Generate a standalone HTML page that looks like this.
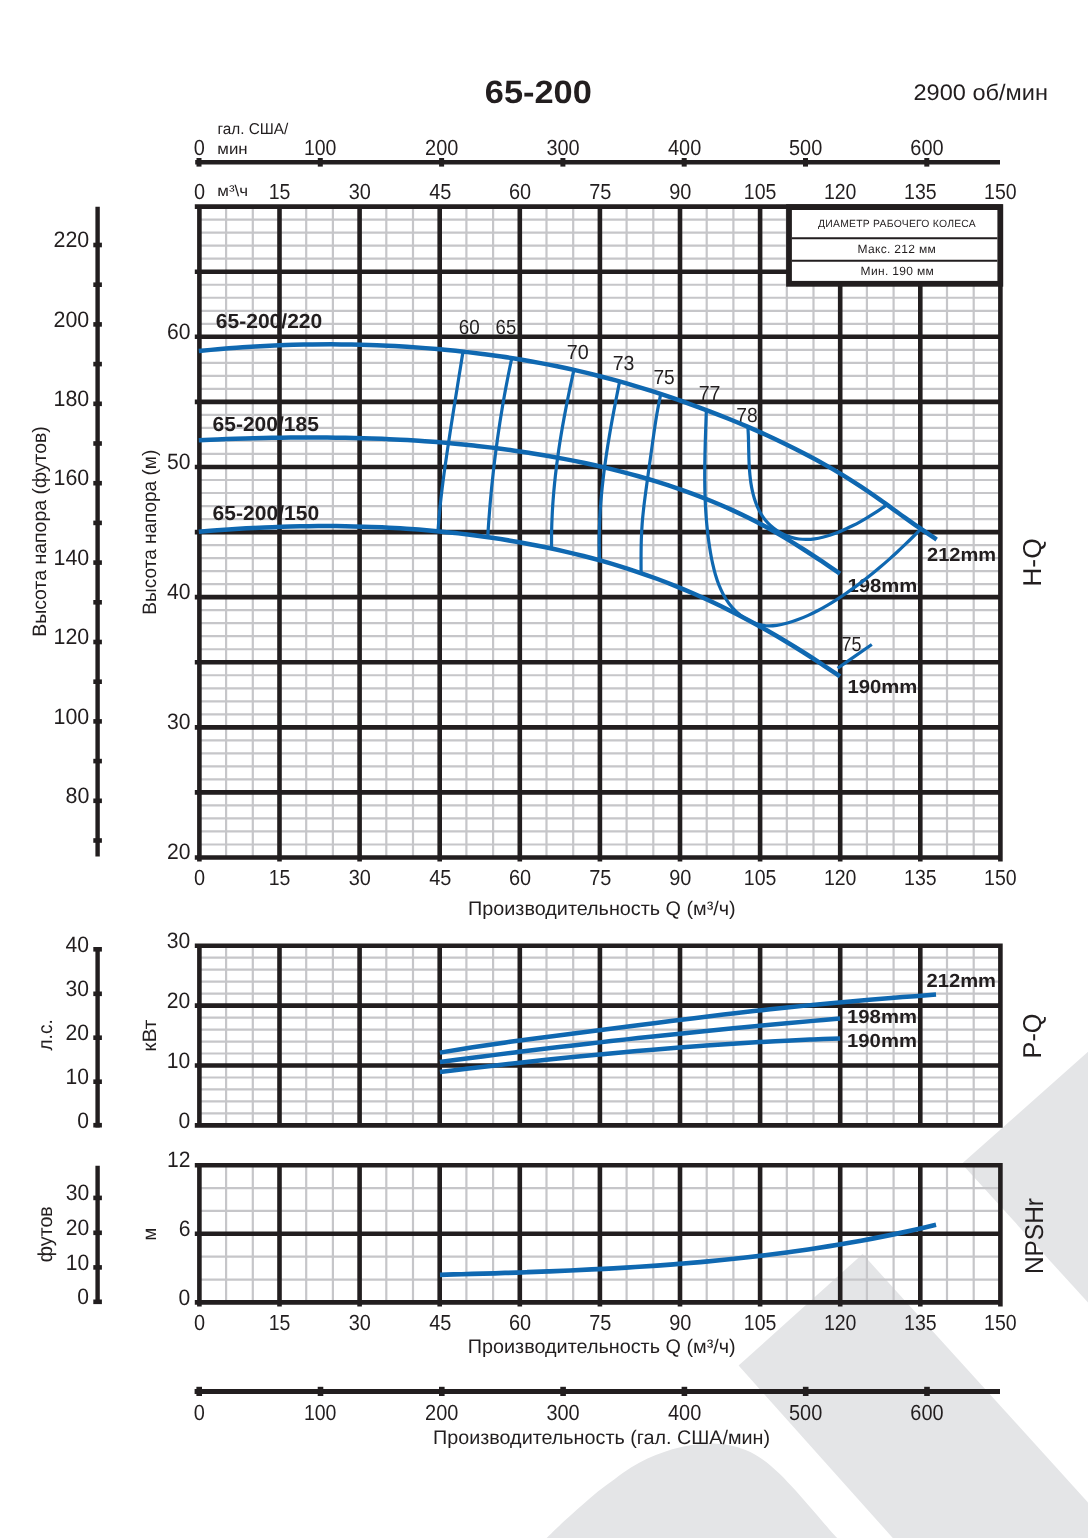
<!DOCTYPE html>
<html lang="ru"><head><meta charset="utf-8"><title>65-200</title>
<style>html,body{margin:0;padding:0;background:#fff}body{width:1088px;height:1538px;overflow:hidden}svg{display:block}text{font-family:"Liberation Sans", "DejaVu Sans", sans-serif;fill:#221e1f;text-rendering:geometricPrecision}</style>
</head><body>
<svg width="1088" height="1538" viewBox="0 0 1088 1538">
<rect width="1088" height="1538" fill="#fff"/>
<g fill="#e4e5e7">
<path d="M961.8 1163.8L1088 1051.8V1302.6Z"/>
<path d="M862.6 1254L1088 1502.4V1538H892.8L738.6 1365.6Z"/>
<path d="M546.6 1538C549.63 1535.1 559 1525.98 564.8 1520.6C570.6 1515.22 575.88 1510.53 581.4 1505.7C586.92 1500.87 592.38 1496.02 597.9 1491.6C603.42 1487.18 608.98 1483.2 614.5 1479.2C620.02 1475.2 625.5 1471.05 631 1467.6C636.5 1464.15 641.98 1461.12 647.5 1458.5C653.02 1455.88 658.62 1453.78 664.1 1451.9C669.58 1450.02 674.95 1448.43 680.4 1447.2C685.85 1445.97 691.35 1445.12 696.8 1444.5C702.25 1443.88 707.63 1443.37 713.1 1443.5C718.57 1443.63 724.08 1444.17 729.6 1445.3C735.12 1446.43 740.68 1447.95 746.2 1450.3C751.72 1452.65 757.18 1455.55 762.7 1459.4C768.22 1463.25 773.78 1468.17 779.3 1473.4C784.82 1478.63 790.28 1484.73 795.8 1490.8C801.32 1496.87 806.88 1503.45 812.4 1509.8C817.92 1516.15 824.77 1524.2 828.9 1528.9C833.03 1533.6 835.82 1536.48 837.2 1538Z"/>
</g>
<path d="M226.1 206.65V857.5M252.8 206.65V857.5M306.2 206.65V857.5M332.9 206.65V857.5M386.3 206.65V857.5M413 206.65V857.5M466.4 206.65V857.5M493.1 206.65V857.5M546.5 206.65V857.5M573.2 206.65V857.5M626.6 206.65V857.5M653.3 206.65V857.5M706.7 206.65V857.5M733.4 206.65V857.5M786.8 206.65V857.5M813.5 206.65V857.5M866.9 206.65V857.5M893.6 206.65V857.5M947 206.65V857.5M973.7 206.65V857.5M199.4 219.67H1000.4M199.4 232.68H1000.4M199.4 245.7H1000.4M199.4 258.72H1000.4M199.4 284.75H1000.4M199.4 297.77H1000.4M199.4 310.79H1000.4M199.4 323.8H1000.4M199.4 349.84H1000.4M199.4 362.85H1000.4M199.4 375.87H1000.4M199.4 388.89H1000.4M199.4 414.92H1000.4M199.4 427.94H1000.4M199.4 440.96H1000.4M199.4 453.97H1000.4M199.4 480.01H1000.4M199.4 493.02H1000.4M199.4 506.04H1000.4M199.4 519.06H1000.4M199.4 545.09H1000.4M199.4 558.11H1000.4M199.4 571.13H1000.4M199.4 584.14H1000.4M199.4 610.18H1000.4M199.4 623.19H1000.4M199.4 636.21H1000.4M199.4 649.23H1000.4M199.4 675.26H1000.4M199.4 688.28H1000.4M199.4 701.3H1000.4M199.4 714.31H1000.4M199.4 740.35H1000.4M199.4 753.36H1000.4M199.4 766.38H1000.4M199.4 779.4H1000.4M199.4 805.43H1000.4M199.4 818.45H1000.4M199.4 831.47H1000.4M199.4 844.48H1000.4" stroke="#c6c6c9" stroke-width="2.2" fill="none"/>
<path d="M194.8 206.65H1002.7M194.8 271.74H1002.7M194.8 336.82H1002.7M194.8 401.91H1002.7M194.8 466.99H1002.7M194.8 532.08H1002.7M194.8 597.16H1002.7M194.8 662.25H1002.7M194.8 727.33H1002.7M194.8 792.42H1002.7M194.8 857.5H1002.7M199.4 204.35V861.6M279.5 204.35V861.6M359.6 204.35V861.6M439.7 204.35V861.6M519.8 204.35V861.6M599.9 204.35V861.6M680 204.35V861.6M760.1 204.35V861.6M840.2 204.35V861.6M920.3 204.35V861.6M1000.4 204.35V861.6" stroke="#221e1f" stroke-width="4.6" fill="none"/>
<path d="M226.1 945.7V1125.4M252.8 945.7V1125.4M306.2 945.7V1125.4M332.9 945.7V1125.4M386.3 945.7V1125.4M413 945.7V1125.4M466.4 945.7V1125.4M493.1 945.7V1125.4M546.5 945.7V1125.4M573.2 945.7V1125.4M626.6 945.7V1125.4M653.3 945.7V1125.4M706.7 945.7V1125.4M733.4 945.7V1125.4M786.8 945.7V1125.4M813.5 945.7V1125.4M866.9 945.7V1125.4M893.6 945.7V1125.4M947 945.7V1125.4M973.7 945.7V1125.4M199.4 957.68H1000.4M199.4 969.66H1000.4M199.4 981.64H1000.4M199.4 993.62H1000.4M199.4 1017.58H1000.4M199.4 1029.56H1000.4M199.4 1041.54H1000.4M199.4 1053.52H1000.4M199.4 1077.48H1000.4M199.4 1089.46H1000.4M199.4 1101.44H1000.4M199.4 1113.42H1000.4" stroke="#c6c6c9" stroke-width="2.2" fill="none"/>
<path d="M194.8 945.7H1002.7M194.8 1005.6H1002.7M194.8 1065.5H1002.7M194.8 1125.4H1002.7M199.4 943.4V1127.7M279.5 943.4V1127.7M359.6 943.4V1127.7M439.7 943.4V1127.7M519.8 943.4V1127.7M599.9 943.4V1127.7M680 943.4V1127.7M760.1 943.4V1127.7M840.2 943.4V1127.7M920.3 943.4V1127.7M1000.4 943.4V1127.7" stroke="#221e1f" stroke-width="4.6" fill="none"/>
<path d="M226.1 1165.2V1302.4M252.8 1165.2V1302.4M306.2 1165.2V1302.4M332.9 1165.2V1302.4M386.3 1165.2V1302.4M413 1165.2V1302.4M466.4 1165.2V1302.4M493.1 1165.2V1302.4M546.5 1165.2V1302.4M573.2 1165.2V1302.4M626.6 1165.2V1302.4M653.3 1165.2V1302.4M706.7 1165.2V1302.4M733.4 1165.2V1302.4M786.8 1165.2V1302.4M813.5 1165.2V1302.4M866.9 1165.2V1302.4M893.6 1165.2V1302.4M947 1165.2V1302.4M973.7 1165.2V1302.4M199.4 1188.07H1000.4M199.4 1210.93H1000.4M199.4 1256.67H1000.4M199.4 1279.53H1000.4" stroke="#c6c6c9" stroke-width="2.2" fill="none"/>
<path d="M194.8 1165.2H1002.7M194.8 1233.8H1002.7M194.8 1302.4H1002.7M199.4 1162.9V1306.5M279.5 1162.9V1306.5M359.6 1162.9V1306.5M439.7 1162.9V1306.5M519.8 1162.9V1306.5M599.9 1162.9V1306.5M680 1162.9V1306.5M760.1 1162.9V1306.5M840.2 1162.9V1306.5M920.3 1162.9V1306.5M1000.4 1162.9V1306.5" stroke="#221e1f" stroke-width="4.6" fill="none"/>
<path d="M97.6 206.8V856.6" stroke="#221e1f" stroke-width="4.4" fill="none"/>
<rect x="93.3" y="242.7" width="8.6" height="4.6" fill="#221e1f"/>
<rect x="93.3" y="282.4" width="8.6" height="4.6" fill="#221e1f"/>
<rect x="93.3" y="322.1" width="8.6" height="4.6" fill="#221e1f"/>
<rect x="93.3" y="361.8" width="8.6" height="4.6" fill="#221e1f"/>
<rect x="93.3" y="401.5" width="8.6" height="4.6" fill="#221e1f"/>
<rect x="93.3" y="441.2" width="8.6" height="4.6" fill="#221e1f"/>
<rect x="93.3" y="480.9" width="8.6" height="4.6" fill="#221e1f"/>
<rect x="93.3" y="520.6" width="8.6" height="4.6" fill="#221e1f"/>
<rect x="93.3" y="560.3" width="8.6" height="4.6" fill="#221e1f"/>
<rect x="93.3" y="600" width="8.6" height="4.6" fill="#221e1f"/>
<rect x="93.3" y="639.7" width="8.6" height="4.6" fill="#221e1f"/>
<rect x="93.3" y="679.4" width="8.6" height="4.6" fill="#221e1f"/>
<rect x="93.3" y="719.1" width="8.6" height="4.6" fill="#221e1f"/>
<rect x="93.3" y="758.8" width="8.6" height="4.6" fill="#221e1f"/>
<rect x="93.3" y="798.5" width="8.6" height="4.6" fill="#221e1f"/>
<rect x="93.3" y="838.2" width="8.6" height="4.6" fill="#221e1f"/>
<path d="M97.6 947V1127.5" stroke="#221e1f" stroke-width="4.4" fill="none"/>
<rect x="93.3" y="947" width="8.6" height="4.6" fill="#221e1f"/>
<rect x="93.3" y="991.5" width="8.6" height="4.6" fill="#221e1f"/>
<rect x="93.3" y="1035.4" width="8.6" height="4.6" fill="#221e1f"/>
<rect x="93.3" y="1079.4" width="8.6" height="4.6" fill="#221e1f"/>
<rect x="93.3" y="1122.9" width="8.6" height="4.6" fill="#221e1f"/>
<path d="M97.6 1165.7V1304.1" stroke="#221e1f" stroke-width="4.4" fill="none"/>
<rect x="93.3" y="1195.6" width="8.6" height="4.6" fill="#221e1f"/>
<rect x="93.3" y="1230.5" width="8.6" height="4.6" fill="#221e1f"/>
<rect x="93.3" y="1265.1" width="8.6" height="4.6" fill="#221e1f"/>
<rect x="93.3" y="1299.5" width="8.6" height="4.6" fill="#221e1f"/>
<path d="M195.2 162.3H1000" stroke="#221e1f" stroke-width="4.6" fill="none"/>
<rect x="196.5" y="158" width="5" height="8.6" fill="#221e1f"/>
<rect x="317.8" y="158" width="5" height="8.6" fill="#221e1f"/>
<rect x="439.1" y="158" width="5" height="8.6" fill="#221e1f"/>
<rect x="560.4" y="158" width="5" height="8.6" fill="#221e1f"/>
<rect x="681.7" y="158" width="5" height="8.6" fill="#221e1f"/>
<rect x="803" y="158" width="5" height="8.6" fill="#221e1f"/>
<rect x="924.3" y="158" width="5" height="8.6" fill="#221e1f"/>
<path d="M194.6 1391.4H1000" stroke="#221e1f" stroke-width="5.0" fill="none"/>
<rect x="196.4" y="1386.8" width="5.6" height="9.2" fill="#221e1f"/>
<rect x="317.7" y="1386.8" width="5.6" height="9.2" fill="#221e1f"/>
<rect x="439" y="1386.8" width="5.6" height="9.2" fill="#221e1f"/>
<rect x="560.3" y="1386.8" width="5.6" height="9.2" fill="#221e1f"/>
<rect x="681.6" y="1386.8" width="5.6" height="9.2" fill="#221e1f"/>
<rect x="802.9" y="1386.8" width="5.6" height="9.2" fill="#221e1f"/>
<rect x="924.2" y="1386.8" width="5.6" height="9.2" fill="#221e1f"/>
<rect x="789" y="207.1" width="211.3" height="76.7" fill="#fff" stroke="#221e1f" stroke-width="5.8"/>
<path d="M791.8 238.2H997.5M791.8 260.8H997.5" stroke="#221e1f" stroke-width="2.1" fill="none"/>
<text x="484.81" y="102.5" textLength="107.05" lengthAdjust="spacingAndGlyphs" font-size="32.2px" font-weight="bold">65-200</text>
<text x="913.5" y="99.8" textLength="134.47" lengthAdjust="spacingAndGlyphs" font-size="22.4px">2900 об/мин</text>
<text x="193.66" y="155" textLength="11.09" lengthAdjust="spacingAndGlyphs" font-size="21.8px">0</text>
<text x="303.93" y="155" textLength="32.56" lengthAdjust="spacingAndGlyphs" font-size="21.8px">100</text>
<text x="425.11" y="155" textLength="33.28" lengthAdjust="spacingAndGlyphs" font-size="21.8px">200</text>
<text x="546.38" y="155" textLength="33.28" lengthAdjust="spacingAndGlyphs" font-size="21.8px">300</text>
<text x="667.99" y="155" textLength="33.28" lengthAdjust="spacingAndGlyphs" font-size="21.8px">400</text>
<text x="788.98" y="155" textLength="33.28" lengthAdjust="spacingAndGlyphs" font-size="21.8px">500</text>
<text x="910.3" y="155" textLength="33.28" lengthAdjust="spacingAndGlyphs" font-size="21.8px">600</text>
<text x="217.42" y="134.1" textLength="70.9" lengthAdjust="spacingAndGlyphs" font-size="15.6px">гал. США/</text>
<text x="217.32" y="153.9" textLength="30.31" lengthAdjust="spacingAndGlyphs" font-size="15.6px">мин</text>
<text x="217.31" y="196.2" textLength="30.78" lengthAdjust="spacingAndGlyphs" font-size="15.6px">м³\ч</text>
<text x="194.11" y="199.1" textLength="11.09" lengthAdjust="spacingAndGlyphs" font-size="21.8px">0</text>
<text x="268.77" y="199.1" textLength="21.7" lengthAdjust="spacingAndGlyphs" font-size="21.8px">15</text>
<text x="348.73" y="199.1" textLength="22.19" lengthAdjust="spacingAndGlyphs" font-size="21.8px">30</text>
<text x="429.24" y="199.1" textLength="22.19" lengthAdjust="spacingAndGlyphs" font-size="21.8px">45</text>
<text x="508.95" y="199.1" textLength="22.19" lengthAdjust="spacingAndGlyphs" font-size="21.8px">60</text>
<text x="589.15" y="199.1" textLength="22.19" lengthAdjust="spacingAndGlyphs" font-size="21.8px">75</text>
<text x="669.17" y="199.1" textLength="22.19" lengthAdjust="spacingAndGlyphs" font-size="21.8px">90</text>
<text x="743.84" y="199.1" textLength="32.56" lengthAdjust="spacingAndGlyphs" font-size="21.8px">105</text>
<text x="823.88" y="199.1" textLength="32.56" lengthAdjust="spacingAndGlyphs" font-size="21.8px">120</text>
<text x="904.04" y="199.1" textLength="32.56" lengthAdjust="spacingAndGlyphs" font-size="21.8px">135</text>
<text x="984.08" y="199.1" textLength="32.56" lengthAdjust="spacingAndGlyphs" font-size="21.8px">150</text>
<text x="53.49" y="247.1" textLength="35.74" lengthAdjust="spacingAndGlyphs" font-size="22.2px">220</text>
<text x="53.49" y="326.5" textLength="35.74" lengthAdjust="spacingAndGlyphs" font-size="22.2px">200</text>
<text x="53.49" y="405.9" textLength="35.74" lengthAdjust="spacingAndGlyphs" font-size="22.2px">180</text>
<text x="53.49" y="485.3" textLength="35.74" lengthAdjust="spacingAndGlyphs" font-size="22.2px">160</text>
<text x="53.49" y="564.7" textLength="35.74" lengthAdjust="spacingAndGlyphs" font-size="22.2px">140</text>
<text x="53.49" y="644.1" textLength="35.74" lengthAdjust="spacingAndGlyphs" font-size="22.2px">120</text>
<text x="53.49" y="723.5" textLength="35.74" lengthAdjust="spacingAndGlyphs" font-size="22.2px">100</text>
<text x="65.57" y="802.9" textLength="23.82" lengthAdjust="spacingAndGlyphs" font-size="22.2px">80</text>
<text x="167.12" y="338.72" textLength="23.45" lengthAdjust="spacingAndGlyphs" font-size="22.2px">60</text>
<text x="167.12" y="468.89" textLength="23.45" lengthAdjust="spacingAndGlyphs" font-size="22.2px">50</text>
<text x="167.12" y="599.06" textLength="23.45" lengthAdjust="spacingAndGlyphs" font-size="22.2px">40</text>
<text x="167.12" y="729.23" textLength="23.45" lengthAdjust="spacingAndGlyphs" font-size="22.2px">30</text>
<text x="167.12" y="859.4" textLength="23.45" lengthAdjust="spacingAndGlyphs" font-size="22.2px">20</text>
<text transform="translate(46 635.2) rotate(-90)" x="-1.61" y="0" textLength="210.67" lengthAdjust="spacingAndGlyphs" font-size="19.4px">Высота напора (футов)</text>
<text transform="translate(156.25 613.1) rotate(-90)" x="-1.57" y="0" textLength="164.93" lengthAdjust="spacingAndGlyphs" font-size="19.4px">Высота напора (м)</text>
<text x="215.79" y="328.4" textLength="106.48" lengthAdjust="spacingAndGlyphs" font-size="20.4px" font-weight="bold">65-200/220</text>
<text x="212.59" y="430.6" textLength="106.27" lengthAdjust="spacingAndGlyphs" font-size="20.4px" font-weight="bold">65-200/185</text>
<text x="212.59" y="519.7" textLength="106.53" lengthAdjust="spacingAndGlyphs" font-size="20.4px" font-weight="bold">65-200/150</text>
<text x="927.01" y="560.6" textLength="69.04" lengthAdjust="spacingAndGlyphs" font-size="19px" font-weight="bold">212mm</text>
<text x="847.44" y="591.6" textLength="69.92" lengthAdjust="spacingAndGlyphs" font-size="19px" font-weight="bold">198mm</text>
<text x="847.44" y="693.4" textLength="69.92" lengthAdjust="spacingAndGlyphs" font-size="19px" font-weight="bold">190mm</text>
<text x="458.7" y="333.5" textLength="20.93" lengthAdjust="spacingAndGlyphs" font-size="20.4px">60</text>
<text x="495.61" y="333.5" textLength="20.61" lengthAdjust="spacingAndGlyphs" font-size="20.4px">65</text>
<text x="566.78" y="358.85" textLength="21.95" lengthAdjust="spacingAndGlyphs" font-size="20.4px">70</text>
<text x="612.74" y="370.4" textLength="21.69" lengthAdjust="spacingAndGlyphs" font-size="20.4px">73</text>
<text x="653.41" y="384" textLength="21.3" lengthAdjust="spacingAndGlyphs" font-size="20.4px">75</text>
<text x="698.68" y="400.4" textLength="21.81" lengthAdjust="spacingAndGlyphs" font-size="20.4px">77</text>
<text x="736.2" y="422.3" textLength="21.41" lengthAdjust="spacingAndGlyphs" font-size="20.4px">78</text>
<text x="841.57" y="650.7" textLength="19.92" lengthAdjust="spacingAndGlyphs" font-size="20.4px">75</text>
<text x="818.09" y="227.2" textLength="157.72" lengthAdjust="spacing" font-size="10.4px">ДИАМЕТР РАБОЧЕГО КОЛЕСА</text>
<text x="857.58" y="252.9" textLength="78.11" lengthAdjust="spacing" font-size="12px">Макс. 212 мм</text>
<text x="860.58" y="275" textLength="73.28" lengthAdjust="spacing" font-size="12px">Мин. 190 мм</text>
<text transform="translate(1040.85 584.6) rotate(-90)" x="-2.19" y="0" textLength="48.64" lengthAdjust="spacingAndGlyphs" font-size="25.8px">H-Q</text>
<text transform="translate(1040.85 1056.3) rotate(-90)" x="-2.08" y="0" textLength="44.83" lengthAdjust="spacingAndGlyphs" font-size="25.8px">P-Q</text>
<text transform="translate(1043.4 1272) rotate(-90)" x="-2.01" y="0" textLength="75.87" lengthAdjust="spacingAndGlyphs" font-size="25.8px">NPSHr</text>
<text x="194.11" y="884.9" textLength="11.09" lengthAdjust="spacingAndGlyphs" font-size="21.8px">0</text>
<text x="268.77" y="884.9" textLength="21.7" lengthAdjust="spacingAndGlyphs" font-size="21.8px">15</text>
<text x="348.73" y="884.9" textLength="22.19" lengthAdjust="spacingAndGlyphs" font-size="21.8px">30</text>
<text x="429.24" y="884.9" textLength="22.19" lengthAdjust="spacingAndGlyphs" font-size="21.8px">45</text>
<text x="508.95" y="884.9" textLength="22.19" lengthAdjust="spacingAndGlyphs" font-size="21.8px">60</text>
<text x="589.15" y="884.9" textLength="22.19" lengthAdjust="spacingAndGlyphs" font-size="21.8px">75</text>
<text x="669.17" y="884.9" textLength="22.19" lengthAdjust="spacingAndGlyphs" font-size="21.8px">90</text>
<text x="743.84" y="884.9" textLength="32.56" lengthAdjust="spacingAndGlyphs" font-size="21.8px">105</text>
<text x="823.88" y="884.9" textLength="32.56" lengthAdjust="spacingAndGlyphs" font-size="21.8px">120</text>
<text x="904.04" y="884.9" textLength="32.56" lengthAdjust="spacingAndGlyphs" font-size="21.8px">135</text>
<text x="984.08" y="884.9" textLength="32.56" lengthAdjust="spacingAndGlyphs" font-size="21.8px">150</text>
<text x="468.08" y="914.9" textLength="267.59" lengthAdjust="spacingAndGlyphs" font-size="19.6px">Производительность Q (м³/ч)</text>
<text x="65.52" y="951.9" textLength="23.45" lengthAdjust="spacingAndGlyphs" font-size="22.2px">40</text>
<text x="65.52" y="996.4" textLength="23.45" lengthAdjust="spacingAndGlyphs" font-size="22.2px">30</text>
<text x="65.52" y="1040.3" textLength="23.45" lengthAdjust="spacingAndGlyphs" font-size="22.2px">20</text>
<text x="65.52" y="1084.3" textLength="23.45" lengthAdjust="spacingAndGlyphs" font-size="22.2px">10</text>
<text x="77.15" y="1127.8" textLength="11.73" lengthAdjust="spacingAndGlyphs" font-size="22.2px">0</text>
<text x="166.82" y="948.3" textLength="23.45" lengthAdjust="spacingAndGlyphs" font-size="22.2px">30</text>
<text x="166.82" y="1008.2" textLength="23.45" lengthAdjust="spacingAndGlyphs" font-size="22.2px">20</text>
<text x="166.82" y="1068.1" textLength="23.45" lengthAdjust="spacingAndGlyphs" font-size="22.2px">10</text>
<text x="178.45" y="1128" textLength="11.73" lengthAdjust="spacingAndGlyphs" font-size="22.2px">0</text>
<text transform="translate(52.4 1050.4) rotate(-90)" x="-0.12" y="0" textLength="31.26" lengthAdjust="spacingAndGlyphs" font-size="20.2px">л.с.</text>
<text transform="translate(156.25 1050.4) rotate(-90)" x="-1.45" y="0" textLength="32.24" lengthAdjust="spacingAndGlyphs" font-size="19.4px">кВт</text>
<text x="926.5" y="986.9" textLength="69.56" lengthAdjust="spacingAndGlyphs" font-size="19px" font-weight="bold">212mm</text>
<text x="847.09" y="1022.8" textLength="69.87" lengthAdjust="spacingAndGlyphs" font-size="19px" font-weight="bold">198mm</text>
<text x="847.09" y="1046.6" textLength="69.87" lengthAdjust="spacingAndGlyphs" font-size="19px" font-weight="bold">190mm</text>
<text x="65.72" y="1200.3" textLength="23.45" lengthAdjust="spacingAndGlyphs" font-size="22.2px">30</text>
<text x="65.72" y="1235.2" textLength="23.45" lengthAdjust="spacingAndGlyphs" font-size="22.2px">20</text>
<text x="65.72" y="1269.8" textLength="23.45" lengthAdjust="spacingAndGlyphs" font-size="22.2px">10</text>
<text x="77.35" y="1304.2" textLength="11.73" lengthAdjust="spacingAndGlyphs" font-size="22.2px">0</text>
<text x="167.11" y="1167.4" textLength="23.45" lengthAdjust="spacingAndGlyphs" font-size="22.2px">12</text>
<text x="178.69" y="1236" textLength="11.73" lengthAdjust="spacingAndGlyphs" font-size="22.2px">6</text>
<text x="178.55" y="1304.6" textLength="11.73" lengthAdjust="spacingAndGlyphs" font-size="22.2px">0</text>
<text transform="translate(52.4 1261.3) rotate(-90)" x="-0.98" y="0" textLength="56.11" lengthAdjust="spacingAndGlyphs" font-size="20.2px">футов</text>
<text transform="translate(156.25 1239.3) rotate(-90)" x="-1.29" y="0" textLength="12.67" lengthAdjust="spacingAndGlyphs" font-size="19.4px">м</text>
<text x="194.11" y="1330.2" textLength="11.09" lengthAdjust="spacingAndGlyphs" font-size="21.8px">0</text>
<text x="268.77" y="1330.2" textLength="21.7" lengthAdjust="spacingAndGlyphs" font-size="21.8px">15</text>
<text x="348.73" y="1330.2" textLength="22.19" lengthAdjust="spacingAndGlyphs" font-size="21.8px">30</text>
<text x="429.24" y="1330.2" textLength="22.19" lengthAdjust="spacingAndGlyphs" font-size="21.8px">45</text>
<text x="508.95" y="1330.2" textLength="22.19" lengthAdjust="spacingAndGlyphs" font-size="21.8px">60</text>
<text x="589.15" y="1330.2" textLength="22.19" lengthAdjust="spacingAndGlyphs" font-size="21.8px">75</text>
<text x="669.17" y="1330.2" textLength="22.19" lengthAdjust="spacingAndGlyphs" font-size="21.8px">90</text>
<text x="743.84" y="1330.2" textLength="32.56" lengthAdjust="spacingAndGlyphs" font-size="21.8px">105</text>
<text x="823.88" y="1330.2" textLength="32.56" lengthAdjust="spacingAndGlyphs" font-size="21.8px">120</text>
<text x="904.04" y="1330.2" textLength="32.56" lengthAdjust="spacingAndGlyphs" font-size="21.8px">135</text>
<text x="984.08" y="1330.2" textLength="32.56" lengthAdjust="spacingAndGlyphs" font-size="21.8px">150</text>
<text x="467.78" y="1353.3" textLength="267.9" lengthAdjust="spacingAndGlyphs" font-size="19.6px">Производительность Q (м³/ч)</text>
<text x="193.66" y="1419.5" textLength="11.09" lengthAdjust="spacingAndGlyphs" font-size="21.8px">0</text>
<text x="303.93" y="1419.5" textLength="32.56" lengthAdjust="spacingAndGlyphs" font-size="21.8px">100</text>
<text x="425.11" y="1419.5" textLength="33.28" lengthAdjust="spacingAndGlyphs" font-size="21.8px">200</text>
<text x="546.38" y="1419.5" textLength="33.28" lengthAdjust="spacingAndGlyphs" font-size="21.8px">300</text>
<text x="667.99" y="1419.5" textLength="33.28" lengthAdjust="spacingAndGlyphs" font-size="21.8px">400</text>
<text x="788.98" y="1419.5" textLength="33.28" lengthAdjust="spacingAndGlyphs" font-size="21.8px">500</text>
<text x="910.3" y="1419.5" textLength="33.28" lengthAdjust="spacingAndGlyphs" font-size="21.8px">600</text>
<text x="433.09" y="1443.8" textLength="337.02" lengthAdjust="spacingAndGlyphs" font-size="19.6px">Производительность (гал. США/мин)</text>
<g fill="none" stroke="#0f68b1" stroke-linecap="butt" stroke-linejoin="round">
<path d="M463.02 351.62C462.58 354.33 461.26 362.47 460.38 367.89C459.51 373.32 458.63 378.74 457.75 384.17C456.88 389.6 456.01 395.03 455.14 400.46C454.28 405.89 453.42 411.32 452.56 416.75C451.71 422.19 450.86 427.62 450.02 433.06C449.19 438.49 448.35 443.93 447.54 449.37C446.73 454.81 445.92 460.25 445.16 465.69C444.39 471.13 443.64 476.58 442.94 482.03C442.24 487.48 441.57 492.93 440.96 498.39C440.35 503.86 439.78 509.32 439.29 514.79C438.79 520.26 438.2 528.49 437.98 531.23M511.78 358.12C511.22 360.8 509.51 368.84 508.44 374.21C507.37 379.58 506.34 384.96 505.34 390.35C504.35 395.74 503.4 401.14 502.48 406.54C501.57 411.95 500.69 417.36 499.85 422.77C499.02 428.19 498.22 433.62 497.46 439.05C496.69 444.47 495.97 449.91 495.28 455.35C494.6 460.79 493.95 466.23 493.34 471.68C492.72 477.13 492.15 482.58 491.6 488.03C491.06 493.48 490.56 498.94 490.09 504.4C489.62 509.86 489.19 515.32 488.79 520.78C488.39 526.24 487.87 534.44 487.69 537.17M573.91 369.94C573.33 372.61 571.55 380.61 570.42 385.95C569.29 391.3 568.18 396.65 567.11 402.01C566.05 407.38 565.01 412.75 564.03 418.13C563.04 423.5 562.09 428.89 561.2 434.29C560.3 439.68 559.45 445.08 558.66 450.49C557.87 455.9 557.13 461.32 556.45 466.74C555.78 472.17 555.15 477.6 554.61 483.03C554.06 488.47 553.57 493.91 553.16 499.36C552.75 504.81 552.4 510.26 552.15 515.72C551.89 521.18 551.7 526.65 551.6 532.12C551.51 537.59 551.57 545.81 551.57 548.55M619.61 381.45C619.08 384.13 617.46 392.16 616.41 397.52C615.37 402.88 614.33 408.25 613.33 413.63C612.33 419 611.34 424.39 610.41 429.77C609.47 435.16 608.56 440.56 607.7 445.96C606.85 451.36 606.03 456.77 605.28 462.19C604.52 467.6 603.81 473.02 603.18 478.45C602.54 483.88 601.96 489.31 601.47 494.75C600.97 500.19 600.54 505.63 600.19 511.08C599.85 516.54 599.59 521.99 599.42 527.45C599.25 532.92 599.17 538.39 599.2 543.86C599.23 549.33 599.52 557.56 599.58 560.3M660.72 393.96C660.2 396.65 658.54 404.7 657.58 410.09C656.62 415.49 655.77 420.9 654.93 426.32C654.1 431.73 653.35 437.16 652.58 442.58C651.81 448 651.08 453.43 650.32 458.84C649.57 464.26 648.8 469.67 648.05 475.08C647.3 480.49 646.53 485.88 645.82 491.29C645.1 496.71 644.36 502.11 643.75 507.54C643.14 512.97 642.56 518.41 642.16 523.87C641.75 529.33 641.49 534.81 641.3 540.28C641.12 545.76 641.08 551.26 641.05 556.74C641.02 562.22 641.1 570.43 641.1 573.17M706.37 410.02C706.31 411.88 706.11 417.47 705.98 421.18C705.85 424.88 705.72 428.58 705.59 432.27C705.47 435.96 705.35 439.63 705.24 443.3C705.14 446.97 705.04 450.63 704.96 454.29C704.88 457.94 704.81 461.59 704.77 465.24C704.73 468.88 704.7 472.52 704.71 476.16C704.72 479.8 704.75 483.43 704.81 487.07C704.88 490.7 704.97 494.33 705.11 497.96C705.24 501.6 705.41 505.23 705.62 508.87C705.83 512.5 706.08 516.14 706.39 519.78C706.69 523.42 707.04 527.06 707.44 530.71C707.84 534.37 708.29 538.02 708.8 541.68C709.32 545.35 709.87 549.02 710.51 552.69C711.15 556.36 711.83 560.07 712.64 563.7C713.45 567.34 714.33 570.99 715.37 574.53C716.41 578.07 717.55 581.58 718.89 584.95C720.24 588.32 721.71 591.62 723.42 594.75C725.13 597.88 727.01 600.91 729.15 603.73C731.29 606.55 733.64 609.23 736.28 611.67C738.92 614.1 741.86 616.4 745 618.34C748.14 620.28 751.62 622.06 755.1 623.29C758.58 624.53 762.28 625.42 765.89 625.77C769.5 626.12 773.16 625.87 776.77 625.42C780.37 624.97 783.98 624.02 787.51 623.05C791.05 622.07 794.55 620.86 797.99 619.57C801.43 618.29 804.81 616.86 808.16 615.34C811.5 613.83 814.79 612.19 818.04 610.48C821.29 608.77 824.5 606.95 827.66 605.09C830.83 603.23 833.95 601.28 837.04 599.31C840.13 597.33 843.18 595.3 846.19 593.23C849.21 591.17 852.19 589.06 855.13 586.91C858.08 584.76 860.99 582.58 863.88 580.36C866.76 578.13 869.62 575.87 872.45 573.58C875.27 571.28 878.07 568.95 880.85 566.59C883.62 564.23 886.37 561.83 889.1 559.4C891.82 556.97 894.53 554.51 897.21 552.02C899.9 549.54 902.56 547.02 905.21 544.47C907.86 541.93 910.48 539.35 913.1 536.75C915.71 534.15 919.6 530.19 920.9 528.88M747.89 427C747.96 428.29 748.2 432.13 748.31 434.73C748.42 437.34 748.48 439.97 748.55 442.62C748.62 445.27 748.66 447.94 748.72 450.62C748.78 453.29 748.84 455.99 748.93 458.68C749.02 461.38 749.13 464.08 749.29 466.78C749.45 469.48 749.64 472.19 749.91 474.88C750.17 477.57 750.49 480.26 750.89 482.92C751.3 485.59 751.78 488.26 752.36 490.89C752.95 493.52 753.62 496.15 754.42 498.73C755.23 501.3 756.13 503.86 757.18 506.32C758.24 508.78 759.42 511.2 760.77 513.48C762.12 515.76 763.62 517.97 765.28 520.01C766.95 522.06 768.79 523.99 770.74 525.76C772.69 527.54 774.8 529.17 776.99 530.64C779.18 532.1 781.5 533.41 783.87 534.53C786.25 535.65 788.73 536.61 791.24 537.36C793.74 538.1 796.33 538.67 798.92 539.02C801.51 539.37 804.14 539.49 806.78 539.46C809.41 539.42 812.07 539.17 814.71 538.8C817.36 538.43 820.02 537.88 822.65 537.24C825.29 536.6 827.92 535.81 830.51 534.96C833.11 534.12 835.69 533.15 838.22 532.15C840.76 531.16 843.25 530.09 845.71 528.98C848.17 527.88 850.58 526.72 852.97 525.52C855.36 524.32 857.71 523.08 860.03 521.8C862.36 520.52 864.65 519.19 866.92 517.84C869.19 516.49 871.43 515.09 873.65 513.68C875.88 512.26 878.08 510.81 880.27 509.34C882.46 507.87 885.7 505.6 886.78 504.85M837.6 668.3C843.3 664.33 866.1 648.47 871.8 644.5" stroke-width="3.2"/>
<path d="M198.8 351.04C201.95 350.74 211.41 349.77 217.72 349.21C224.02 348.65 230.33 348.13 236.64 347.67C242.94 347.2 249.25 346.78 255.55 346.42C261.86 346.05 268.17 345.73 274.47 345.46C280.78 345.18 287.08 344.96 293.39 344.79C299.7 344.61 306 344.48 312.31 344.4C318.61 344.32 324.92 344.29 331.23 344.31C337.53 344.33 343.84 344.39 350.14 344.5C356.45 344.62 362.76 344.78 369.06 344.98C375.37 345.19 381.67 345.44 387.98 345.75C394.29 346.05 400.59 346.4 406.9 346.8C413.2 347.19 419.51 347.64 425.82 348.13C432.12 348.62 438.43 349.16 444.73 349.76C451.04 350.35 457.35 350.99 463.65 351.69C469.96 352.39 476.26 353.14 482.57 353.95C488.88 354.76 495.18 355.63 501.49 356.55C507.79 357.48 514.1 358.46 520.41 359.51C526.71 360.56 533.02 361.66 539.32 362.84C545.63 364.01 551.94 365.25 558.24 366.55C564.55 367.86 570.85 369.23 577.16 370.67C583.46 372.11 589.77 373.62 596.08 375.2C602.38 376.78 608.69 378.44 614.99 380.17C621.3 381.9 627.61 383.7 633.91 385.57C640.22 387.45 646.52 389.39 652.83 391.4C659.14 393.42 665.44 395.5 671.75 397.65C678.05 399.8 684.36 402.01 690.67 404.29C696.97 406.57 703.28 408.91 709.58 411.32C715.89 413.73 722.2 416.19 728.5 418.75C734.81 421.3 741.11 423.92 747.42 426.64C753.73 429.36 760.03 432.17 766.34 435.07C772.64 437.97 778.95 440.96 785.26 444.03C791.56 447.1 797.87 450.23 804.17 453.49C810.48 456.75 816.79 460.07 823.09 463.59C829.4 467.11 835.7 470.76 842.01 474.61C848.32 478.47 854.62 482.55 860.93 486.73C867.23 490.92 873.54 495.3 879.85 499.71C886.15 504.12 892.46 508.71 898.76 513.21C905.07 517.71 911.38 522.32 917.68 526.71C923.99 531.09 933.45 537.38 936.6 539.52M198.8 440.22C201.85 440.09 211.01 439.7 217.12 439.46C223.23 439.22 229.33 439 235.44 438.81C241.55 438.61 247.65 438.43 253.76 438.27C259.87 438.11 265.97 437.98 272.08 437.86C278.19 437.75 284.29 437.66 290.4 437.6C296.51 437.54 302.61 437.5 308.72 437.49C314.83 437.49 320.93 437.5 327.04 437.55C333.15 437.6 339.25 437.68 345.36 437.79C351.47 437.9 357.57 438.04 363.68 438.22C369.79 438.4 375.89 438.61 382 438.86C388.11 439.1 394.21 439.38 400.32 439.71C406.43 440.03 412.53 440.39 418.64 440.79C424.75 441.18 430.85 441.62 436.96 442.1C443.07 442.59 449.17 443.11 455.28 443.68C461.39 444.25 467.49 444.86 473.6 445.52C479.71 446.17 485.81 446.88 491.92 447.63C498.03 448.38 504.13 449.18 510.24 450.04C516.35 450.89 522.45 451.79 528.56 452.74C534.67 453.7 540.77 454.7 546.88 455.76C552.99 456.82 559.09 457.94 565.2 459.11C571.31 460.28 577.41 461.51 583.52 462.8C589.63 464.09 595.73 465.44 601.84 466.86C607.95 468.28 614.05 469.76 620.16 471.33C626.27 472.9 632.37 474.53 638.48 476.25C644.59 477.98 650.69 479.78 656.8 481.67C662.91 483.57 669.01 485.54 675.12 487.62C681.23 489.7 687.33 491.87 693.44 494.14C699.55 496.42 705.65 498.79 711.76 501.28C717.87 503.78 723.97 506.37 730.08 509.11C736.19 511.86 742.29 514.71 748.4 517.75C754.51 520.79 760.61 523.98 766.72 527.33C772.83 530.69 778.93 534.22 785.04 537.87C791.15 541.52 797.25 545.33 803.36 549.23C809.47 553.12 815.57 557.16 821.68 561.23C827.79 565.3 836.95 571.57 840 573.63M198.8 531.68C201.85 531.44 211.01 530.69 217.12 530.24C223.23 529.79 229.33 529.37 235.44 528.99C241.55 528.61 247.65 528.27 253.76 527.96C259.87 527.65 265.97 527.37 272.08 527.14C278.19 526.9 284.29 526.7 290.4 526.54C296.51 526.39 302.61 526.27 308.72 526.19C314.83 526.11 320.93 526.07 327.04 526.08C333.15 526.08 339.25 526.13 345.36 526.22C351.47 526.32 357.57 526.45 363.68 526.64C369.79 526.82 375.89 527.05 382 527.32C388.11 527.6 394.21 527.92 400.32 528.3C406.43 528.67 412.53 529.09 418.64 529.57C424.75 530.04 430.85 530.56 436.96 531.14C443.07 531.72 449.17 532.34 455.28 533.03C461.39 533.71 467.49 534.45 473.6 535.24C479.71 536.03 485.81 536.88 491.92 537.79C498.03 538.69 504.13 539.66 510.24 540.68C516.35 541.7 522.45 542.78 528.56 543.92C534.67 545.07 540.77 546.27 546.88 547.54C552.99 548.82 559.09 550.15 565.2 551.57C571.31 552.98 577.41 554.46 583.52 556.02C589.63 557.58 595.73 559.22 601.84 560.94C607.95 562.66 614.05 564.46 620.16 566.35C626.27 568.24 632.37 570.21 638.48 572.27C644.59 574.34 650.69 576.5 656.8 578.75C662.91 581.01 669.01 583.36 675.12 585.81C681.23 588.27 687.33 590.82 693.44 593.48C699.55 596.14 705.65 598.91 711.76 601.77C717.87 604.64 723.97 607.61 730.08 610.69C736.19 613.76 742.29 616.93 748.4 620.2C754.51 623.47 760.61 626.84 766.72 630.31C772.83 633.78 778.93 637.34 785.04 641C791.15 644.65 797.25 648.4 803.36 652.25C809.47 656.09 815.57 660.03 821.68 664.05C827.79 668.08 836.95 674.34 840 676.39" stroke-width="4.5"/>
<path d="M439.89 1052.61C445.37 1051.72 461.8 1048.97 472.77 1047.28C483.74 1045.58 494.73 1044 505.73 1042.45C516.72 1040.9 527.72 1039.43 538.73 1037.98C549.74 1036.52 560.75 1035.13 571.77 1033.72C582.78 1032.31 593.8 1030.92 604.82 1029.52C615.83 1028.11 626.84 1026.69 637.86 1025.28C648.88 1023.88 659.89 1022.46 670.91 1021.07C681.92 1019.68 692.94 1018.3 703.96 1016.95C714.98 1015.61 726.01 1014.28 737.04 1013C748.07 1011.73 759.1 1010.48 770.14 1009.3C781.17 1008.11 792.22 1006.97 803.26 1005.87C814.31 1004.78 825.36 1003.73 836.42 1002.71C847.48 1001.7 858.54 1000.73 869.6 999.79C880.66 998.85 891.73 997.95 902.8 997.08C913.87 996.21 930.49 994.98 936.03 994.56M439.88 1061.95C444.32 1061.38 457.62 1059.63 466.49 1058.49C475.37 1057.35 484.24 1056.22 493.12 1055.11C501.99 1054 510.87 1052.89 519.75 1051.8C528.63 1050.72 537.51 1049.64 546.39 1048.58C555.28 1047.52 564.16 1046.47 573.05 1045.43C581.94 1044.4 590.82 1043.38 599.71 1042.37C608.6 1041.36 617.5 1040.36 626.39 1039.38C635.28 1038.4 644.18 1037.44 653.07 1036.48C661.97 1035.53 670.87 1034.59 679.77 1033.67C688.67 1032.74 697.57 1031.83 706.47 1030.93C715.37 1030.04 724.27 1029.15 733.18 1028.29C742.08 1027.42 750.99 1026.56 759.89 1025.73C768.8 1024.89 777.71 1024.06 786.62 1023.25C795.53 1022.44 804.44 1021.65 813.35 1020.87C822.26 1020.09 835.63 1018.95 840.09 1018.57M439.9 1071.95C444.33 1071.42 457.62 1069.82 466.48 1068.78C475.35 1067.74 484.22 1066.71 493.09 1065.7C501.96 1064.69 510.83 1063.7 519.7 1062.72C528.58 1061.75 537.45 1060.79 546.33 1059.85C555.21 1058.92 564.09 1058 572.97 1057.1C581.86 1056.21 590.74 1055.34 599.63 1054.49C608.52 1053.64 617.41 1052.81 626.3 1052.01C635.19 1051.21 644.09 1050.43 652.98 1049.68C661.88 1048.93 670.78 1048.21 679.68 1047.52C688.58 1046.82 697.48 1046.16 706.38 1045.52C715.29 1044.89 724.2 1044.28 733.1 1043.71C742.01 1043.13 750.92 1042.59 759.83 1042.08C768.75 1041.58 777.66 1041.1 786.58 1040.66C795.49 1040.22 804.41 1039.82 813.33 1039.45C822.25 1039.08 835.64 1038.63 840.1 1038.46" stroke-width="4.5"/>
<path d="M439.97 1274.83C443.58 1274.73 454.41 1274.45 461.63 1274.25C468.86 1274.05 476.08 1273.85 483.31 1273.63C490.54 1273.42 497.78 1273.2 505.01 1272.96C512.24 1272.73 519.48 1272.49 526.71 1272.23C533.95 1271.97 541.19 1271.7 548.42 1271.41C555.66 1271.12 562.9 1270.82 570.13 1270.5C577.37 1270.17 584.61 1269.83 591.85 1269.47C599.08 1269.1 606.32 1268.72 613.55 1268.31C620.78 1267.9 628.02 1267.46 635.25 1267C642.48 1266.54 649.71 1266.05 656.93 1265.54C664.16 1265.02 671.38 1264.47 678.6 1263.89C685.82 1263.31 693.04 1262.71 700.25 1262.06C707.46 1261.41 714.67 1260.74 721.87 1260.02C729.08 1259.3 736.28 1258.55 743.47 1257.75C750.66 1256.96 757.85 1256.13 765.04 1255.25C772.22 1254.37 779.4 1253.46 786.57 1252.49C793.74 1251.53 800.91 1250.52 808.06 1249.47C815.22 1248.41 822.37 1247.31 829.52 1246.15C836.66 1245 843.8 1243.8 850.92 1242.54C858.05 1241.28 865.17 1239.98 872.28 1238.61C879.39 1237.25 886.49 1235.83 893.59 1234.35C900.68 1232.87 907.76 1231.34 914.84 1229.74C921.91 1228.14 932.49 1225.6 936.03 1224.77" stroke-width="4.7"/>
</g>
</svg></body></html>
